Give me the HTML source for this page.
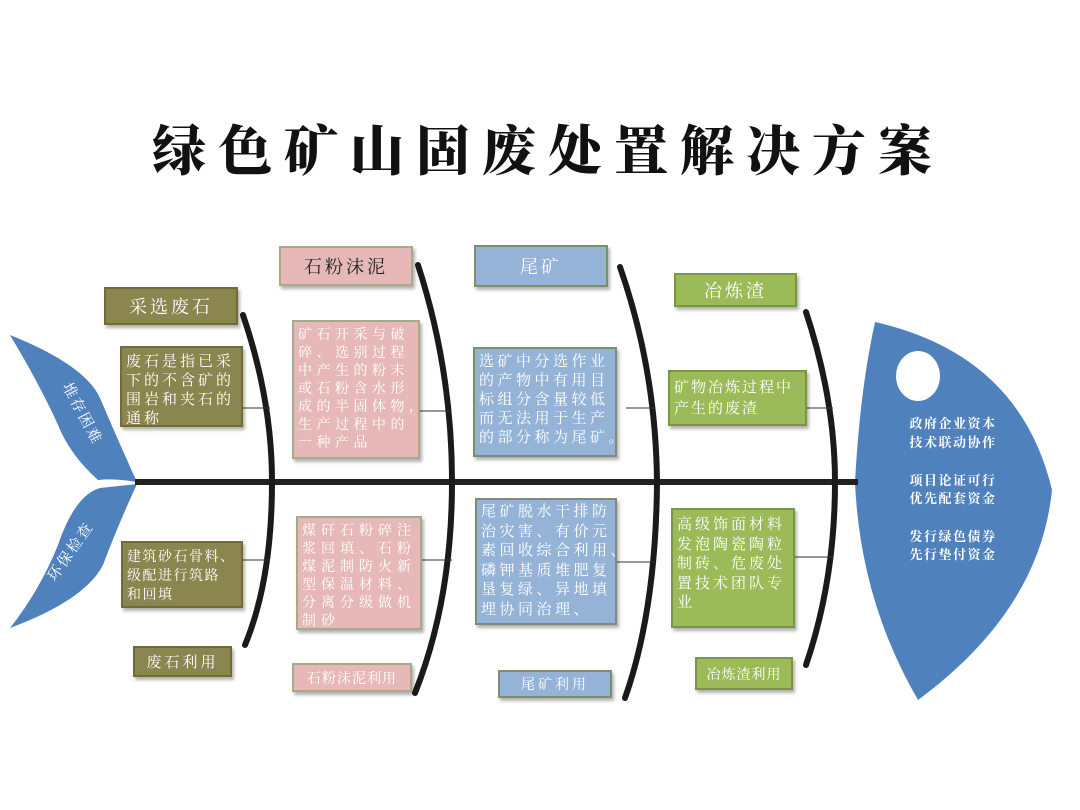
<!DOCTYPE html>
<html><head><meta charset="utf-8"><style>
body{margin:0;width:1080px;height:810px;background:#fff;position:relative;overflow:hidden;font-family:"Liberation Serif","Noto Serif CJK SC",serif}
.t{position:absolute;left:0;top:118px;width:1096px;text-align:center;font-size:54px;font-weight:900;letter-spacing:12px;color:#111;font-family:"Noto Serif CJK SC",serif;line-height:60px;white-space:nowrap}
.b{position:absolute;box-sizing:border-box;box-shadow:2px 3px 3px rgba(0,0,0,0.3);color:#fff;font-size:15px;line-height:20px;padding:3px 4px;letter-spacing:2px;white-space:nowrap;overflow:hidden;font-family:"Noto Serif CJK SC",serif}
.h{text-align:center;font-size:18px;letter-spacing:3px;padding:0;display:flex;align-items:center;justify-content:center}
.ol{background:#8b8650;border:2px solid #6f6b3a}
.pk{background:#e6b9b8;border:2px solid #a9a98a}
.bl{background:#95b3d7;border:2px solid #7d8f6a}
.gr{background:#9bbb59;border:2px solid #7a944a}
svg{position:absolute;left:0;top:0}
</style></head><body>
<div class="t">绿色矿山固废处置解决方案</div>
<svg width="1080" height="810">
<path d="M10,335 Q85,365 100,398 Q120,445 137,482 Q115,478 98,480 Q70,455 58,425 Q40,385 10,335 Z" fill="#4f81bd"/>
<path d="M137,484 Q118,525 103,565 Q85,600 10,628 Q40,590 58,545 Q75,495 100,488 Z" fill="#4f81bd"/>
<text x="62" y="386" fill="#fff" font-size="15" transform="rotate(62 62 386)" font-family="Noto Serif CJK SC" letter-spacing="2">堆存困难</text>
<text x="55" y="582" fill="#fff" font-size="15" transform="rotate(-55 55 582)" font-family="Noto Serif CJK SC" letter-spacing="2">环保检查</text>
<path d="M875,322 Q1020,355 1052,490 Q1040,610 918,700 Q860,600 855,482 Q860,390 875,322 Z" fill="#4f81bd"/>
<ellipse cx="918" cy="376" rx="22" ry="25" fill="#fff"/>
<g fill="#fff" font-size="13" font-family="Noto Serif CJK SC" font-weight="bold" text-anchor="middle" letter-spacing="1.5">
<text x="953" y="428">政府企业资本</text><text x="953" y="447">技术联动协作</text>
<text x="953" y="485">项目论证可行</text><text x="953" y="503">优先配套资金</text>
<text x="953" y="541">发行绿色债券</text><text x="953" y="559">先行垫付资金</text>
</g>
<line x1="135" y1="482" x2="858" y2="482" stroke="#222" stroke-width="6"/>
<g fill="none" stroke="#1a1a1a" stroke-width="6" stroke-linecap="round">
<path d="M243,315 Q272,400 272,482 Q272,580 245,645"/>
<path d="M418,265 Q452,370 452,482 Q452,600 415,693"/>
<path d="M620,267 Q656,370 657,482 Q656,610 625,698"/>
<path d="M806,312 Q835,400 835,482 Q835,580 806,665"/>
</g>
<g stroke="#333" stroke-width="1">
<line x1="243" y1="408" x2="270" y2="408"/><line x1="243" y1="560" x2="270" y2="560"/>
<line x1="420" y1="411" x2="450" y2="411"/><line x1="422" y1="560" x2="452" y2="560"/>
<line x1="626" y1="408" x2="654" y2="408"/><line x1="617" y1="562" x2="654" y2="562"/>
<line x1="807" y1="408" x2="833" y2="408"/><line x1="795" y1="557" x2="833" y2="557"/>
</g>
</svg>
<div class="b h ol" style="left:104px;top:287px;width:134px;height:38px">采选废石</div>
<div class="b ol" style="left:120px;top:346px;width:123px;height:81px;letter-spacing:3px;line-height:19px">废石是指已采<br>下的不含矿的<br>围岩和夹石的<br>通称</div>
<div class="b ol" style="left:121px;top:541px;width:122px;height:67px;font-size:14px;letter-spacing:1.5px;line-height:19px;padding-top:4px">建筑砂石骨料、<br>级配进行筑路<br>和回填</div>
<div class="b h ol" style="left:133px;top:646px;width:99px;height:31px;font-size:15px">废石利用</div>

<div class="b h pk" style="left:279px;top:246px;width:134px;height:40px;color:#222">石粉沫泥</div>
<div class="b pk" style="left:292px;top:320px;width:128px;height:139px;font-size:14px;letter-spacing:4.5px;line-height:18px">矿石开采与破<br>碎、选别过程<br>中产生的粉末<br>或石粉含水形<br>成的半固体物，<br>生产过程中的<br>一种产品</div>
<div class="b pk" style="left:296px;top:516px;width:126px;height:114px;font-size:14px;letter-spacing:5px;line-height:18px">煤矸石粉碎注<br>浆回填、石粉<br>煤泥制防火新<br>型保温材料、<br>分离分级做机<br>制砂</div>
<div class="b h pk" style="left:292px;top:663px;width:120px;height:29px;font-size:14px;letter-spacing:1px">石粉沫泥利用</div>

<div class="b h bl" style="left:474px;top:245px;width:134px;height:42px">尾矿</div>
<div class="b bl" style="left:473px;top:347px;width:144px;height:110px;letter-spacing:3.5px;line-height:19px;padding-top:2px">选矿中分选作业<br>的产物中有用目<br>标组分含量较低<br>而无法用于生产<br>的部分称为尾矿。</div>
<div class="b bl" style="left:475px;top:498px;width:142px;height:127px;letter-spacing:3.5px;line-height:19.5px;padding-top:1px">尾矿脱水干排防<br>治灾害、有价元<br>素回收综合利用、<br>磷钾基质堆肥复<br>垦复绿、异地填<br>埋协同治理、</div>
<div class="b h bl" style="left:498px;top:670px;width:114px;height:28px;font-size:14px">尾矿利用</div>

<div class="b h gr" style="left:674px;top:273px;width:123px;height:34px">冶炼渣</div>
<div class="b gr" style="left:668px;top:370px;width:139px;height:56px;letter-spacing:2px;line-height:21px;padding-top:4px">矿物冶炼过程中<br>产生的废渣</div>
<div class="b gr" style="left:671px;top:508px;width:124px;height:120px;letter-spacing:3px;line-height:19.5px;padding-top:4px">高级饰面材料<br>发泡陶瓷陶粒<br>制砖、危废处<br>置技术团队专<br>业</div>
<div class="b h gr" style="left:695px;top:657px;width:98px;height:33px;font-size:14px;letter-spacing:1px">冶炼渣利用</div>
</body></html>
